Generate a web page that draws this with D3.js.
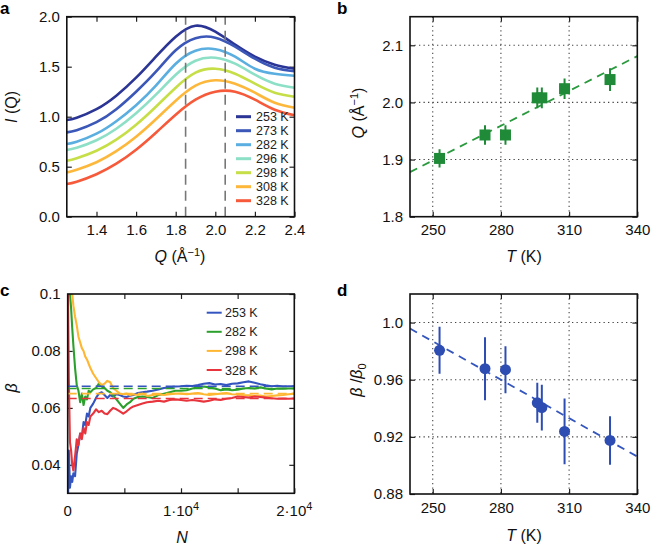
<!DOCTYPE html>
<html><head><meta charset="utf-8">
<script src="https://cdn.jsdelivr.net/npm/d3@7"></script>
<style>
body{margin:0;background:#fff;}
svg{font-family:"Liberation Sans",Arial,Helvetica,sans-serif;}
</style></head>
<body><svg id="c" width="651" height="545"></svg>
<script>
// ---------- Panel a: I(Q) curves ----------
const qGrid = [1.25,1.30,1.40,1.50,1.60,1.70,1.80,1.90,2.00,2.10,2.20,2.30,2.40];
const tempsA = ["253 K","273 K","282 K","296 K","298 K","308 K","328 K"];
const colorsA = ["#2b3595","#3b57b8","#5aaee0","#8de0c6","#c6df48","#fdb83c","#f65a3a"];
const I253 = [0.967,0.99,1.075,1.21,1.39,1.60,1.80,1.91,1.85,1.72,1.60,1.52,1.48];
const I273 = [0.843,0.865,0.945,1.075,1.25,1.45,1.665,1.785,1.79,1.70,1.58,1.49,1.455];
const I282 = [0.727,0.75,0.83,0.955,1.115,1.31,1.53,1.66,1.675,1.60,1.48,1.43,1.41];
const I296 = [0.667,0.69,0.765,0.88,1.035,1.22,1.42,1.56,1.59,1.53,1.42,1.33,1.29];
const I298 = [0.56,0.585,0.66,0.77,0.92,1.10,1.29,1.44,1.48,1.43,1.33,1.24,1.20];
const I308 = [0.443,0.47,0.545,0.655,0.80,0.975,1.16,1.31,1.365,1.33,1.24,1.14,1.09];
const I328 = [0.327,0.35,0.425,0.53,0.67,0.84,1.02,1.17,1.25,1.25,1.17,1.07,1.015];
const seriesA = [I253,I273,I282,I296,I298,I308,I328];
const dashedQ = [1.85, 2.05];
const xTicksA = [1.4,1.6,1.8,2.0,2.2,2.4];
const yTicksA = [0.0,0.5,1.0,1.5,2.0];

// ---------- Panel b: peak position vs T ----------
const tempsB = [253,273,282,296,298,308,328];
const qPeak = [1.902,1.943,1.943,2.008,2.008,2.024,2.040];
const qErr = [0.016,0.017,0.017,0.018,0.018,0.018,0.02];
const fitB = [[240,1.878],[340,2.081]];
const xTicksB = [250,280,310,340];
const yTicksB = [1.8,1.9,2.0,2.1];

// ---------- Panel c: beta convergence ----------
const nGrid = [0,100,200,300,400,500,650,800,950,1100,1250,1400,1550,1700,1850,2000,2250,2500,2750,3000,3250,3500,3750,4000,4300,4600,4900,5200,5500,5800,6200,6600,7000,7500,8000,8500,9000,9500,10000,10500,11000,11500,12000,12500,13000,13500,14000,14500,15000,15500,16000,16500,17000,17500,18000,18500,19000,19500,20000];
const tempsC = ["253 K","282 K","298 K","328 K"];
const colorsC = ["#3455c0","#2ca02c","#ffb733","#e8343c"];
const b253 = [0.020,0.045,0.032,0.036,0.034,0.037,0.036,0.044,0.047,0.051,0.050,0.055,0.054,0.058,0.057,0.060,0.0615,0.0635,0.065,0.0655,0.0645,0.0635,0.0645,0.064,0.0648,0.0645,0.064,0.0638,0.0643,0.0645,0.0652,0.0655,0.0657,0.066,0.0665,0.067,0.0672,0.0675,0.0676,0.0678,0.0677,0.068,0.0685,0.0687,0.0682,0.0684,0.068,0.0685,0.0686,0.069,0.0693,0.0688,0.0683,0.0679,0.0676,0.0678,0.0675,0.0676,0.0676];
const b282 = [0.12,0.105,0.10,0.095,0.088,0.082,0.074,0.068,0.066,0.062,0.065,0.061,0.064,0.063,0.066,0.0655,0.0665,0.067,0.0685,0.0675,0.067,0.066,0.0655,0.0645,0.063,0.0615,0.060,0.0612,0.062,0.0632,0.0638,0.064,0.0638,0.0635,0.0645,0.065,0.0655,0.066,0.066,0.0662,0.0668,0.0672,0.0675,0.0672,0.0668,0.0662,0.0665,0.0662,0.0664,0.0668,0.067,0.0668,0.0672,0.0668,0.0665,0.0668,0.0667,0.0668,0.0668];
const b298 = [0.12,0.12,0.115,0.105,0.10,0.096,0.092,0.089,0.085,0.083,0.081,0.080,0.078,0.077,0.0755,0.074,0.072,0.0705,0.069,0.068,0.0685,0.0695,0.069,0.067,0.066,0.065,0.0648,0.065,0.0645,0.0648,0.0645,0.065,0.0642,0.0645,0.0648,0.0645,0.0648,0.065,0.065,0.0648,0.065,0.0652,0.0648,0.0645,0.0648,0.065,0.0652,0.0648,0.0647,0.0645,0.0644,0.0642,0.0643,0.064,0.0642,0.0644,0.0645,0.0648,0.065];
const b328 = [0.11,0.07,0.048,0.045,0.040,0.038,0.043,0.049,0.047,0.051,0.049,0.053,0.051,0.055,0.054,0.057,0.058,0.0595,0.0585,0.059,0.058,0.0578,0.059,0.060,0.0595,0.0588,0.058,0.0588,0.0598,0.0605,0.061,0.0615,0.062,0.0622,0.0625,0.0622,0.0628,0.063,0.0628,0.0625,0.0628,0.0625,0.0622,0.0625,0.063,0.0628,0.0632,0.0635,0.064,0.0638,0.0636,0.064,0.0638,0.0636,0.0634,0.0632,0.0633,0.0632,0.0633];
const seriesC = [b253,b282,b298,b328];
const betaMean = [0.0676,0.0668,0.065,0.0633];
const xTicksC = [0,5000,10000,15000,20000];
const xLabelsC = {0:["0",""],10000:["1·10","4"],20000:["2·10","4"]};
const yTicksC = [0.04,0.06,0.08,0.1];

// ---------- Panel d: beta/beta0 vs T ----------
const betaRatio = [0.9806,0.9677,0.967,0.9438,0.9405,0.9238,0.9175];
const betaErr = [0.0165,0.022,0.0165,0.014,0.016,0.023,0.017];
const fitD = [[240,0.9958],[340,0.9062]];
const yTicksD = [0.88,0.92,0.96,1.0];

// ================= drawing =================
const svg = d3.select("#c");
const defs = svg.append("defs");

function frame(g, x, y, opts){
  const [x0,x1] = x.range(), [y0,y1] = y.range();
  const T = 5;
  if (opts.grid){
    const gg = g.append("g").attr("stroke","#444").attr("stroke-width",1.1).attr("stroke-dasharray","1.3,3.2");
    opts.xt.forEach(v=>{ const px=x(v); if(px>x0+1&&px<x1-1) gg.append("line").attr("x1",px).attr("x2",px).attr("y1",y1).attr("y2",y0); });
    opts.yt.forEach(v=>{ const py=y(v); if(py<y0-1&&py>y1+1) gg.append("line").attr("x1",x0).attr("x2",x1).attr("y1",py).attr("y2",py); });
  }
  const bottom = d3.axisBottom(x).tickValues(opts.xt).tickSize(-T).tickPadding(8).tickFormat(opts.xf);
  const left = d3.axisLeft(y).tickValues(opts.yt).tickSize(-T).tickPadding(7).tickFormat(opts.yf);
  const top = d3.axisTop(x).tickValues(opts.xt).tickSize(-T).tickFormat("");
  const right = d3.axisRight(y).tickValues(opts.yt).tickSize(-T).tickFormat("");
  const style = s => { s.select(".domain").remove(); s.selectAll(".tick line").attr("stroke","#222").attr("stroke-width",1.2);
    s.selectAll("text").attr("font-size",15).attr("fill","#111").attr("font-family","Liberation Sans, Arial, sans-serif"); };
  g.append("g").attr("transform",`translate(0,${y0})`).call(bottom).call(style);
  g.append("g").attr("transform",`translate(${x0},0)`).call(left).call(style);
  g.append("g").attr("transform",`translate(0,${y1})`).call(top).call(style);
  g.append("g").attr("transform",`translate(${x1},0)`).call(right).call(style);
  return g;
}
function border(g,x,y){
  const [x0,x1] = x.range(), [y0,y1] = y.range();
  g.append("rect").attr("x",x0).attr("y",y1).attr("width",x1-x0).attr("height",y0-y1)
    .attr("fill","none").attr("stroke","#111").attr("stroke-width",1.6);
}
function clip(id,x,y){
  const [x0,x1] = x.range(), [y0,y1] = y.range();
  defs.append("clipPath").attr("id",id).append("rect").attr("x",x0).attr("y",y1).attr("width",x1-x0).attr("height",y0-y1);
  return `url(#${id})`;
}
function panelLabel(t,x,y){
  svg.append("text").attr("x",x).attr("y",y).attr("font-size",17).attr("font-weight","bold").text(t);
}

// ---- Panel a ----
{
  const x = d3.scaleLinear([1.25,2.4],[66.8,294.5]);
  const y = d3.scaleLinear([0,2],[216.7,16.7]);
  const g = svg.append("g");
  frame(g,x,y,{xt:xTicksA,yt:yTicksA,xf:d3.format(".1f"),yf:d3.format(".1f")});
  const cp = clip("ca",x,y);
  const line = d3.line().x((d,i)=>x(qGrid[i])).y(d=>y(d)).curve(d3.curveNatural);
  const lg = g.append("g").attr("clip-path",cp);
  seriesA.forEach((s,k)=>{
    lg.append("path").attr("d",line(s)).attr("fill","none").attr("stroke",colorsA[k]).attr("stroke-width",2.6);
  });
  dashedQ.forEach(q=>{
    lg.append("line").attr("x1",x(q)).attr("x2",x(q)).attr("y1",y(0)).attr("y2",y(2))
      .attr("stroke","#777").attr("stroke-width",1.6).attr("stroke-dasharray","10,6");
  });
  // legend
  const leg = g.append("g");
  tempsA.forEach((t,k)=>{
    const yy = 116.7 + k*14;
    leg.append("line").attr("x1",236).attr("x2",251).attr("y1",yy).attr("y2",yy).attr("stroke",colorsA[k]).attr("stroke-width",3);
    leg.append("text").attr("x",256).attr("y",yy+4.5).attr("font-size",12.5).attr("fill","#222").text(t);
  });
  border(g,x,y);
  const xl = g.append("text").attr("x",180).attr("y",262).attr("text-anchor","middle").attr("font-size",16).attr("fill","#111");
  xl.append("tspan").attr("font-style","italic").text("Q");
  xl.append("tspan").text(" (Å");
  xl.append("tspan").attr("dy",-6).attr("font-size",11).text("−1");
  xl.append("tspan").attr("dy",6).text(")");
  const yl = g.append("text").attr("transform","translate(17,107) rotate(-90)").attr("text-anchor","middle").attr("font-size",16).attr("fill","#111");
  yl.append("tspan").attr("font-style","italic").text("I");
  yl.append("tspan").text(" (Q)");
  panelLabel("a",0,14);
}

// ---- Panel b ----
{
  const x = d3.scaleLinear([240,340],[410,637.3]);
  const y = d3.scaleLinear([1.8,2.15],[216.7,16.7]);
  const g = svg.append("g");
  frame(g,x,y,{xt:xTicksB,yt:yTicksB,xf:d3.format("d"),yf:d3.format(".1f"),grid:true});
  const cp = clip("cb",x,y);
  const pg = g.append("g").attr("clip-path",cp);
  pg.append("line").attr("x1",x(fitB[0][0])).attr("y1",y(fitB[0][1])).attr("x2",x(fitB[1][0])).attr("y2",y(fitB[1][1]))
    .attr("stroke","#2a9a3e").attr("stroke-width",1.8).attr("stroke-dasharray","8,6");
  tempsB.forEach((t,i)=>{
    pg.append("line").attr("x1",x(t)).attr("x2",x(t)).attr("y1",y(qPeak[i]-qErr[i])).attr("y2",y(qPeak[i]+qErr[i]))
      .attr("stroke","#1f8a37").attr("stroke-width",2);
    pg.append("rect").attr("x",x(t)-5.5).attr("y",y(qPeak[i])-5.5).attr("width",11).attr("height",11).attr("fill","#1f8a37");
  });
  border(g,x,y);
  const xl = g.append("text").attr("x",524).attr("y",262).attr("text-anchor","middle").attr("font-size",16).attr("fill","#111");
  xl.append("tspan").attr("font-style","italic").text("T");
  xl.append("tspan").text(" (K)");
  const yl = g.append("text").attr("transform","translate(364,113) rotate(-90)").attr("text-anchor","middle").attr("font-size",16).attr("fill","#111");
  yl.append("tspan").attr("font-style","italic").text("Q");
  yl.append("tspan").text(" (Å");
  yl.append("tspan").attr("dy",-6).attr("font-size",11).text("−1");
  yl.append("tspan").attr("dy",6).text(")");
  panelLabel("b",337,14);
}

// ---- Panel c ----
{
  const x = d3.scaleLinear([0,20000],[67.7,294.3]);
  const y = d3.scaleLinear([0.03,0.1],[493.3,294]);
  const g = svg.append("g");
  frame(g,x,y,{xt:xTicksC,yt:yTicksC,xf:()=>"",yf:d=>d===0.1?"0.1":d3.format(".2f")(d)});
  Object.keys(xLabelsC).forEach(k=>{
    const v=+k, [a,b]=xLabelsC[k];
    const t = g.append("text").attr("x",x(v)).attr("y",516).attr("text-anchor","middle").attr("font-size",15).attr("fill","#111");
    t.append("tspan").text(a);
    if(b) t.append("tspan").attr("dy",-6).attr("font-size",11).text(b);
  });
  const cp = clip("cc",x,y);
  const pg = g.append("g").attr("clip-path",cp);
  const line = d3.line().x((d,i)=>x(nGrid[i])).y(d=>y(d));
  seriesC.forEach((s,k)=>{
    pg.append("path").attr("d",line(s)).attr("fill","none").attr("stroke",colorsC[k]).attr("stroke-width",2.1).attr("stroke-linejoin","round");
  });
  betaMean.forEach((b,k)=>{
    pg.append("line").attr("x1",x(0)).attr("x2",x(20000)).attr("y1",y(b)).attr("y2",y(b))
      .attr("stroke",colorsC[k]).attr("stroke-width",1.6).attr("stroke-dasharray","9,5");
  });
  const leg = g.append("g");
  tempsC.forEach((t,k)=>{
    const yy = 312.7 + k*19.1;
    leg.append("line").attr("x1",206.7).attr("x2",221.7).attr("y1",yy).attr("y2",yy).attr("stroke",colorsC[k]).attr("stroke-width",2);
    leg.append("text").attr("x",225).attr("y",yy+4.5).attr("font-size",12.5).attr("fill","#222").text(t);
  });
  border(g,x,y);
  g.append("text").attr("x",182).attr("y",543).attr("text-anchor","middle").attr("font-size",16).attr("font-style","italic").attr("fill","#111").text("N");
  g.append("text").attr("transform","translate(17,388) rotate(-90)").attr("text-anchor","middle").attr("font-size",16).attr("font-style","italic").attr("fill","#111").text("β");
  panelLabel("c",0,296);
}

// ---- Panel d ----
{
  const x = d3.scaleLinear([240,340],[410,637.3]);
  const y = d3.scaleLinear([0.88,1.02],[494,294]);
  const g = svg.append("g");
  frame(g,x,y,{xt:xTicksB,yt:yTicksD,xf:d3.format("d"),yf:d=>d===1?"1.0":d3.format(".2f")(d),grid:true});
  const cp = clip("cd",x,y);
  const pg = g.append("g").attr("clip-path",cp);
  pg.append("line").attr("x1",x(fitD[0][0])).attr("y1",y(fitD[0][1])).attr("x2",x(fitD[1][0])).attr("y2",y(fitD[1][1]))
    .attr("stroke","#3556bd").attr("stroke-width",1.8).attr("stroke-dasharray","8,6");
  tempsB.forEach((t,i)=>{
    pg.append("line").attr("x1",x(t)).attr("x2",x(t)).attr("y1",y(betaRatio[i]-betaErr[i])).attr("y2",y(betaRatio[i]+betaErr[i]))
      .attr("stroke","#2d4db3").attr("stroke-width",2);
    pg.append("circle").attr("cx",x(t)).attr("cy",y(betaRatio[i])).attr("r",5.5).attr("fill","#2d4db3");
  });
  border(g,x,y);
  const xl = g.append("text").attr("x",524).attr("y",541).attr("text-anchor","middle").attr("font-size",16).attr("fill","#111");
  xl.append("tspan").attr("font-style","italic").text("T");
  xl.append("tspan").text(" (K)");
  const yl = g.append("text").attr("transform","translate(362,380) rotate(-90)").attr("text-anchor","middle").attr("font-size",16).attr("fill","#111");
  yl.append("tspan").attr("font-style","italic").text("β");
  yl.append("tspan").text(" /");
  yl.append("tspan").attr("font-style","italic").text("β");
  yl.append("tspan").attr("dy",4).attr("font-size",11).text("0");
  panelLabel("d",337,296);
}
</script></body></html>
